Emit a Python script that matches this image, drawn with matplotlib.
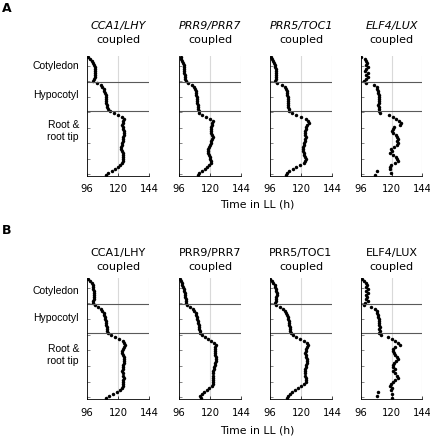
"""Spatial peak-time profiles along the seedling for four coupled clock-gene pairs.

Two rows (A: italic gene names, B: upright gene names), four panels each.
Each dot is the peak time (h in LL) at one position along the seedling,
running from the cotyledon (top) down to the root tip (bottom).
"""

import matplotlib.pyplot as plt

GENES = ["CCA1/LHY", "PRR9/PRR7", "PRR5/TOC1", "ELF4/LUX"]
REGIONS = ["Cotyledon", "Hypocotyl", "Root &\nroot tip"]
X_TICKS = [96, 120, 144]

# position of the region borders along the seedling (same units as the dots)
CUT_COT_HYP = 26
CUT_HYP_ROOT = 55

# peak times, one value per position, top (cotyledon) to bottom (root tip)
CCA1_A = [97, 98, 99.5, 101, 101.5, 102, 102, 102.5, 102.5, 102.5,
          102, 101.5, 101, 103.5, 106.5, 108, 109, 109.5, 110, 110.5,
          110.5, 111, 111, 111, 111.5, 111.5, 112, 114, 117, 120,
          123, 124.5, 124, 123.5, 123, 123.5, 124, 124.5, 124.5, 124.5,
          124, 123.5, 123.5, 123, 123, 122.5, 122.5, 123, 123.5, 124,
          124, 124, 123.5, 123, 121.5, 120, 118, 115, 112.5, 111]
PRR9_A = [97.3, 97.8, 98.3, 98.8, 99.5, 100, 100.1, 100.1, 100.2, 100.3,
          100.5, 100.6, 101.5, 103, 106, 107.8, 108.5, 108.8, 109.2, 109.5,
          109.8, 110, 110.3, 110.3, 110.4, 110.6, 110.8, 111.2, 111.8, 114,
          117, 120, 122, 121.8, 121.3, 120.7, 120.5, 120.7, 121, 121.3,
          122, 121.5, 121, 121, 120, 119.5, 118.8, 118.4, 118.8, 119.5,
          120, 120.3, 120.5, 120.5, 119.5, 118, 116.2, 113.5, 111.8, 111]
PRR5_A = [96.8, 97.5, 98.5, 99.3, 99.8, 100.2, 100.6, 101, 101, 101,
          100.8, 100.3, 99.8, 101.5, 105, 107.5, 108.5, 109, 109.3, 109.5,
          109.8, 110, 110, 110.2, 110.3, 110.3, 110.5, 111, 113, 116,
          120, 123.5, 125.5, 126, 125, 124, 123.5, 123, 123, 123.3,
          123.5, 123.3, 123, 122.5, 122, 121.8, 121.8, 121.8, 122, 122.5,
          123, 123.5, 123.3, 122, 119.5, 116.5, 113.5, 111, 109.5, 108.5]
ELF4_A = [96.5, 99.5, 100.5, 101, 100, 101.5, 100.5, 99.5, 101.5, 100,
          102, 100.5, 99, 100.5, 106.5, 108.5, 109, 109.5, 109.8, 110,
          110.2, 110.5, 110.3, 110, 109.8, 110, 110, 110.5, 111, 118,
          121, 123.5, 126, 127.5, 126.5, 122, 121, 120, 121.5, 123.5,
          124.5, 125, 124, 125, 124, 122, 119.5, 120.5, 118.5, 121,
          123.5, 124.5, 125, 122.5, 119.5, 118.5, 119, 108.5, 119.5, 107.5]

CCA1_B = [97, 98, 99.5, 100.3, 100.8, 101, 101.2, 101.2, 101.2, 101.2,
          101.2, 101, 100.8, 102, 104.5, 106.5, 108, 109, 109.5, 110,
          110.3, 110.5, 110.8, 111, 111.3, 111.5, 111.8, 112.5, 114.5, 117.5,
          120.5, 123.5, 125, 125.5, 124.5, 123.5, 123, 123.3, 124, 124.5,
          124.8, 124.8, 124.3, 124, 123.8, 123.5, 123.3, 123.5, 124, 124.5,
          124, 123.5, 124, 123.5, 123, 121.5, 119.5, 116.5, 113, 110.5]
PRR9_B = [96.5, 97.5, 98.2, 98.6, 99.2, 99.6, 100, 100.5, 100.7, 100.9,
          101.2, 101.5, 101.8, 102.5, 104.5, 106.5, 108, 108.8, 109.3, 109.7,
          110.2, 110.5, 110.9, 111.1, 111.3, 111.6, 112, 112.5, 113.5, 115.8,
          118.5, 121, 123, 124.5, 124, 123.5, 123.5, 123.5, 124, 124.3,
          124.6, 124.4, 124, 123.8, 123.4, 123, 122.6, 122.4, 122.3, 122.3,
          122, 122, 122.3, 121.5, 119.5, 117.5, 115.5, 113.5, 112.3, 113]
PRR5_B = [96.3, 97.5, 98.5, 99.5, 100, 100.6, 101, 101.2, 101.2, 101,
          100.8, 100.5, 100.2, 101, 103.5, 106, 107.5, 108.5, 109.3, 109.8,
          110.2, 110.5, 110.8, 111, 111.2, 111.4, 111.6, 112, 113.5, 116.5,
          119.5, 122.5, 124.5, 125.5, 125, 124, 123.5, 123.3, 123.5, 124,
          124.5, 124.8, 124.5, 124, 123.5, 123, 122.8, 122.8, 123.2, 123.8,
          124, 123.5, 122, 120, 117.5, 115, 113, 111.5, 110.3, 109]
ELF4_B = [96.8, 98.5, 100, 101, 100.5, 101.5, 100, 101.5, 100, 101,
          100.5, 101.5, 99.5, 98.5, 104.5, 107.5, 108.5, 109, 109.5, 109.8,
          110.2, 110.2, 110.5, 110.3, 110.8, 110.5, 110.8, 110.5, 111.5, 117,
          120.5, 122.5, 125, 126.5, 122.5, 121.5, 121, 122, 123, 124.5,
          125, 123.5, 122, 121, 121.5, 122.5, 121.5, 123, 124, 125,
          123, 121, 119.5, 119, 120, 119.5, 109.5, 120, 108.5, 120]

ROWS = [
    ("A", [CCA1_A, PRR9_A, PRR5_A, ELF4_A], "italic", 55.7, 120, 26, 40, 188.7, 204,
     [65.7, 95, 130.5]),
    ("B", [CCA1_B, PRR9_B, PRR5_B, ELF4_B], "normal", 277.7, 121, 253, 267, 412.7, 430,
     [291, 318.3, 354.5]),
]

FIG_W, FIG_H = 431, 436
AX_LEFTS = [87, 179, 270, 360.5]
AX_W = 62
Y_TICKS = [10, 25.5, 41, 56.5, 72, 87.5, 103, 118.5]


def fx(px):
    return px / FIG_W


def fy(px):
    return 1 - px / FIG_H


def main() -> None:
    plt.rcParams["font.family"] = "DejaVu Sans"
    fig = plt.figure(figsize=(FIG_W / 100, FIG_H / 100), dpi=100)

    for (letter, series, style, top, height, t1, t2, tick_y, xlab_y,
         region_y) in ROWS:
        fig.text(fx(2), fy(top - 47), letter, fontsize=9, fontweight="bold",
                 ha="left", va="center")
        for left, gene, times in zip(AX_LEFTS, GENES, series):
            ax = fig.add_axes([fx(left), fy(top + height), AX_W / FIG_W,
                               height / FIG_H])
            pos = [1 + 2 * i for i in range(len(times))]
            ax.plot(times, pos, linestyle="none", marker="o", markersize=2.5,
                    color="black", markeredgewidth=0)
            ax.axhline(CUT_COT_HYP, color="#5a5a5a", lw=0.8)
            ax.axhline(CUT_HYP_ROOT, color="#5a5a5a", lw=0.8)
            ax.set_xlim(96, 144)
            ax.set_ylim(120, 0)
            ax.set_xticks(X_TICKS)
            ax.set_yticks(Y_TICKS)
            ax.set_yticklabels([])
            ax.xaxis.grid(True, color="#d9d9d9", lw=0.8)
            ax.set_axisbelow(True)
            for side in ("top", "right"):
                ax.spines[side].set_visible(False)
            for side in ("left", "bottom"):
                ax.spines[side].set_linewidth(0.6)
            pad = (tick_y - top - height) * 0.72 - 3.5
            ax.tick_params(axis="x", direction="in", length=2, width=0.5,
                           labelsize=7.2, pad=pad)
            ax.tick_params(axis="y", direction="in", length=2, width=0.5,
                           color="#555555")

            cx = fx(left + AX_W / 2)
            fig.text(cx, fy(t1), gene, fontsize=8, style=style,
                     ha="center", va="center")
            fig.text(cx, fy(t2), "coupled", fontsize=8, ha="center",
                     va="center")

        fig.text(fx(257), fy(xlab_y), "Time in LL (h)", fontsize=7.8,
                 ha="center", va="center")
        for label, y in zip(REGIONS, region_y):
            fig.text(fx(79), fy(y), label, fontsize=7.5, ha="right",
                     va="center", multialignment="center",
                     family="Liberation Sans", linespacing=1.25)

    fig.savefig("out.png", dpi=100)


if __name__ == "__main__":
    main()
